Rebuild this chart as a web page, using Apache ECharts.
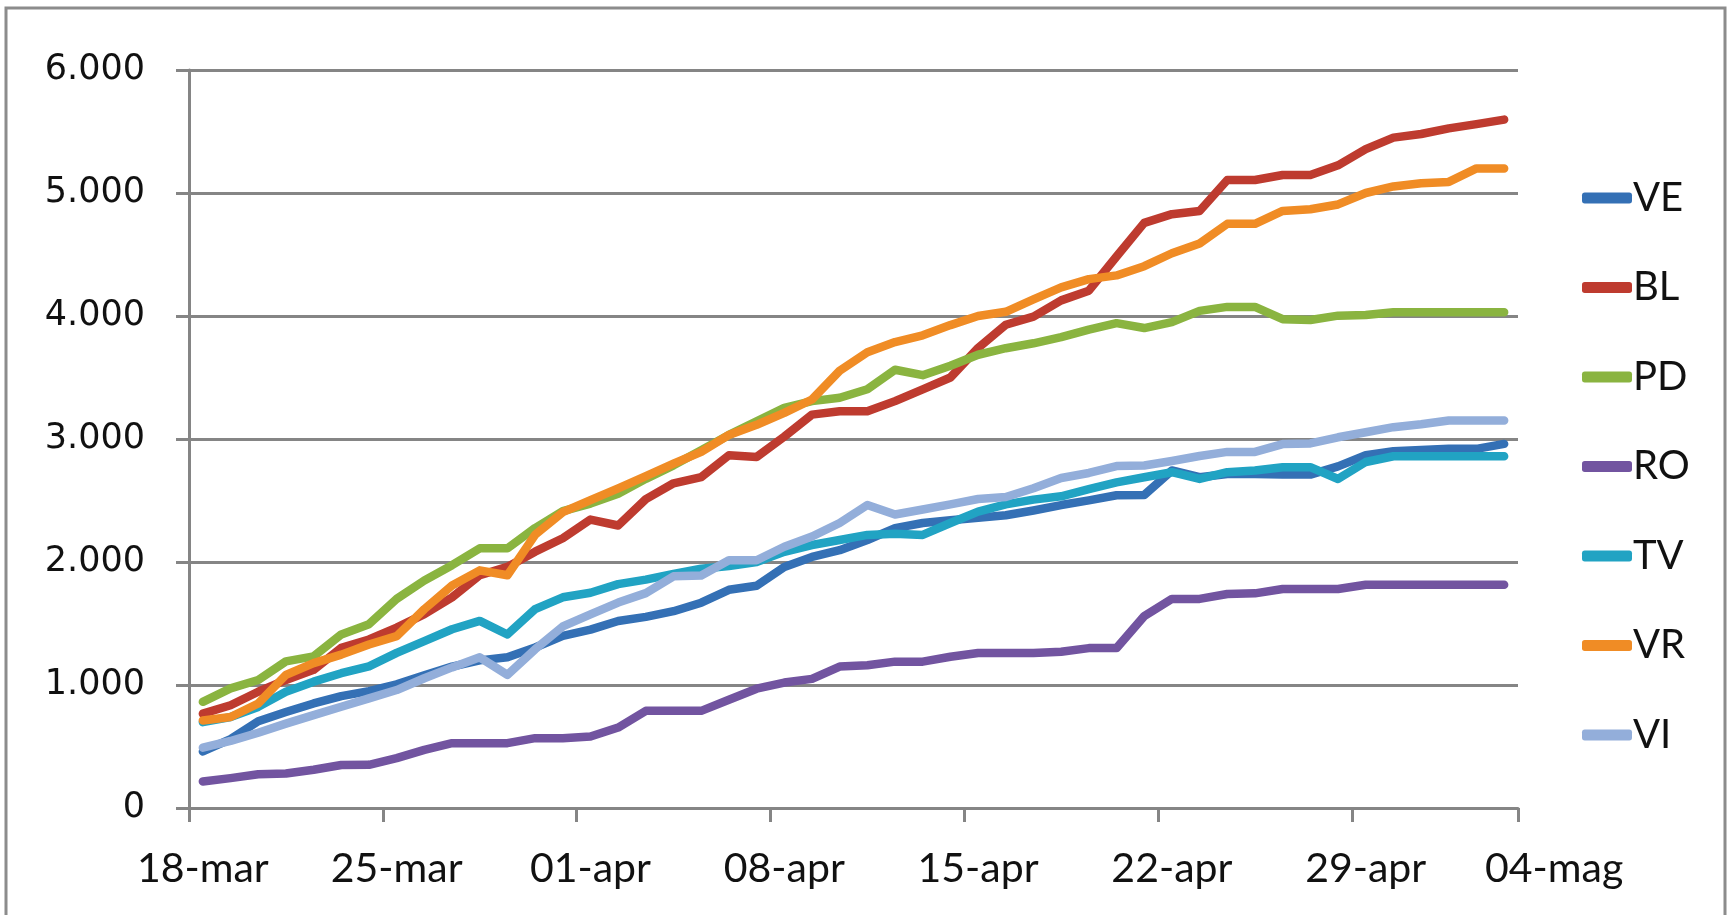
<!DOCTYPE html>
<html>
<head>
<meta charset="utf-8">
<script src="https://cdn.jsdelivr.net/npm/echarts@6/dist/echarts.min.js"></script>
<style>
html,body{margin:0;padding:0;background:#fff;}
#chart{width:1730px;height:915px;}
</style>
</head>
<body>
<div id="chart"></div>
<script>
const categories = ['18-mar','19-mar','20-mar','21-mar','22-mar','23-mar','24-mar','25-mar','26-mar','27-mar','28-mar','29-mar','30-mar','31-mar',
'01-apr','02-apr','03-apr','04-apr','05-apr','06-apr','07-apr','08-apr','09-apr','10-apr','11-apr','12-apr','13-apr','14-apr','15-apr','16-apr','17-apr','18-apr','19-apr','20-apr','21-apr','22-apr','23-apr','24-apr','25-apr','26-apr','27-apr','28-apr','29-apr','30-apr',
'01-mag','02-mag','03-mag','04-mag'];

const VE = [460,560,705,780,850,910,950,1005,1080,1150,1200,1225,1305,1400,1450,1520,1554,1600,1669,1774,1807,1959,2041,2096,2179,2275,2317,2340,2360,2380,2419,2463,2501,2543,2545,2744,2689,2716,2716,2711,2711,2777,2868,2900,2910,2920,2920,2960];
const BL = [767,835,945,1041,1123,1302,1370,1466,1576,1713,1892,1960,2084,2193,2345,2297,2511,2640,2690,2868,2854,3019,3198,3225,3225,3308,3404,3500,3740,3929,3995,4127,4206,4484,4757,4828,4854,5106,5106,5146,5146,5225,5357,5450,5480,5525,5560,5597];
const PD = [863,973,1041,1192,1233,1411,1494,1700,1850,1974,2111,2111,2276,2413,2475,2555,2676,2786,2909,3033,3143,3253,3308,3335,3404,3563,3519,3596,3685,3738,3778,3828,3889,3942,3902,3950,4042,4074,4074,3974,3968,4003,4008,4030,4030,4030,4030,4030];
const RO = [216,243,275,280,311,350,351,405,473,527,527,527,568,568,581,654,790,790,790,880,970,1020,1050,1150,1160,1190,1190,1230,1260,1260,1260,1270,1300,1300,1560,1700,1700,1740,1745,1780,1780,1780,1815,1815,1815,1815,1815,1815];
const TV = [698,739,822,945,1027,1096,1151,1261,1357,1453,1521,1411,1617,1713,1750,1820,1857,1904,1945,1967,2000,2083,2138,2179,2220,2229,2220,2317,2410,2468,2507,2534,2592,2647,2689,2730,2675,2730,2744,2771,2771,2675,2813,2860,2860,2860,2860,2860];
const VR = [712,740,850,1082,1178,1247,1329,1397,1617,1809,1932,1892,2221,2405,2503,2599,2698,2799,2896,3033,3115,3212,3321,3555,3706,3788,3843,3926,4000,4034,4135,4233,4300,4330,4405,4510,4590,4749,4749,4854,4868,4907,5000,5053,5080,5090,5200,5200];
const VI = [490,545,612,686,755,823,891,959,1055,1143,1225,1082,1290,1476,1575,1670,1747,1884,1890,2014,2014,2124,2207,2317,2463,2386,2427,2468,2512,2529,2600,2683,2724,2780,2785,2821,2862,2895,2895,2959,2964,3014,3055,3096,3120,3150,3150,3150];

const seriesNames = ['VE','BL','PD','RO','TV','VR','VI'];
const seriesData = [VE, BL, PD, RO, TV, VR, VI];
const colors = ['#3470B5','#BE3B2F','#8AB440','#7254A0','#21A3C3','#F08C25','#93AEDA'];
const yTicks = [0, 1000, 2000, 3000, 4000, 5000, 6000];

const gridColor = '#858585';
const labelFont = 'Lato, "Open Sans", sans-serif';
const yFont = '"DejaVu Sans", sans-serif';

const chart = echarts.init(document.getElementById('chart'), null, {renderer: 'canvas'});

const option = {
  backgroundColor: '#ffffff',
  animation: false,
  color: colors,
  graphic: [{
    type: 'rect', z: -1, silent: true,
    shape: {x: 6, y: 8, width: 1719, height: 1000},
    style: {fill: 'none', stroke: '#8c8c8c', lineWidth: 3}
  }],
  grid: {left: 189, right: 212, top: 70, bottom: 107, containLabel: false},
  legend: {
    orient: 'vertical',
    left: 1577,
    top: 173,
    itemGap: 49.5,
    itemWidth: 50,
    itemHeight: 11,
    icon: 'roundRect',
    data: seriesNames,
    textStyle: {fontFamily: labelFont, fontSize: 40, lineHeight: 40, color: '#111', padding: [0,0,0,-4]}
  },
  xAxis: {
    type: 'category',
    data: categories,
    boundaryGap: true,
    axisLine: {show: true, lineStyle: {color: gridColor, width: 3}},
    axisTick: {show: true, interval: (i) => i % 7 === 0, length: 14, lineStyle: {color: gridColor, width: 3}},
    axisLabel: {
      interval: (i) => i % 7 === 0 || i === 47,
      margin: 40,
      fontFamily: labelFont,
      fontSize: 41,
      color: '#111',
      formatter: (v, i) => i === 47 ? '{s|' + v + '}' : v,
      rich: {s: {fontFamily: labelFont, fontSize: 41, color: '#111', padding: [0, 0, 0, 100]}}
    },
    splitLine: {show: false}
  },
  yAxis: {
    type: 'value',
    min: yTicks[0],
    max: yTicks[yTicks.length - 1],
    interval: 1000,
    axisLine: {show: true, lineStyle: {color: gridColor, width: 3}},
    axisTick: {show: true, length: 13, lineStyle: {color: gridColor, width: 3}},
    axisLabel: {
      margin: 44,
      fontFamily: yFont,
      fontSize: 35,
      color: '#111',
      formatter: (v) => v === 0 ? '0' : (v / 1000) + '.000'
    },
    splitLine: {show: true, lineStyle: {color: gridColor, width: 3}}
  },
  series: seriesNames.map((name, k) => ({
    name: name,
    type: 'line',
    data: seriesData[k],
    symbol: 'none',
    showSymbol: false,
    lineStyle: {width: 8.5, color: colors[k], cap: 'round', join: 'round'},
    itemStyle: {color: colors[k]}
  }))
};

chart.setOption(option);
</script>
</body>
</html>
